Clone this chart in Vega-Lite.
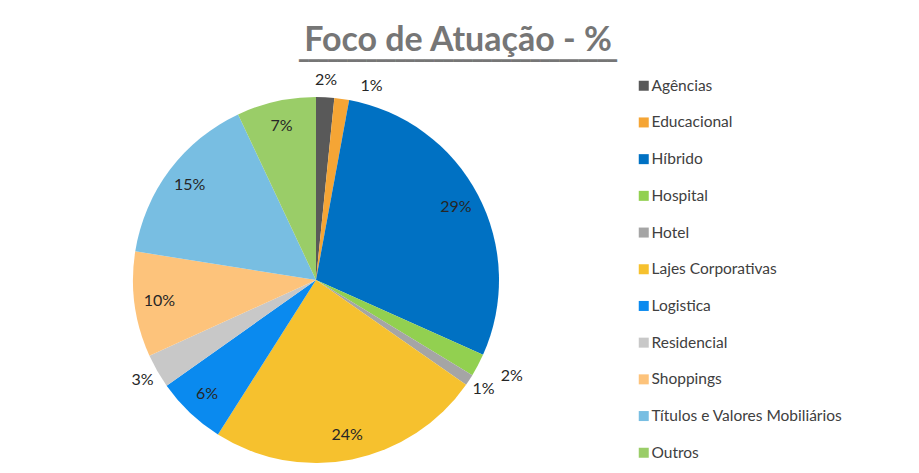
{
  "$schema": "https://vega.github.io/schema/vega-lite/v6.json",
  "width": 632,
  "height": 386,
  "autosize": {"type": "none"},
  "padding": {"left": 0, "top": 87, "right": 287, "bottom": 0},
  "background": "white",
  "config": {"view": {"stroke": null}, "font": "Lato"},
  "title": {
    "text": "Foco de Atuação - %",
    "subtitle": "━━━━━━━━━━━━━━━━━━━━━━━━━━━━━━━━━",
    "font": "Lato",
    "fontSize": 34,
    "fontWeight": "bold",
    "color": "#767676",
    "anchor": "middle",
    "frame": "group",
    "dx": 142,
    "offset": 2,
    "subtitleFont": "DejaVu Sans Mono",
    "subtitleFontSize": 16,
    "subtitleColor": "#767676",
    "subtitlePadding": -5
  },
  "data": {
    "values": [
      {"ordem": 1, "segmento": "Agências", "valor": 1.6, "rotulo": "2%"},
      {"ordem": 2, "segmento": "Educacional", "valor": 1.3, "rotulo": "1%"},
      {"ordem": 3, "segmento": "Híbrido", "valor": 28.8, "rotulo": "29%"},
      {"ordem": 4, "segmento": "Hospital", "valor": 2.0, "rotulo": "2%"},
      {"ordem": 5, "segmento": "Hotel", "valor": 1.0, "rotulo": "1%"},
      {"ordem": 6, "segmento": "Lajes Corporativas", "valor": 24.3, "rotulo": "24%"},
      {"ordem": 7, "segmento": "Logistica", "valor": 6.2, "rotulo": "6%"},
      {"ordem": 8, "segmento": "Residencial", "valor": 3.0, "rotulo": "3%"},
      {"ordem": 9, "segmento": "Shoppings", "valor": 9.3, "rotulo": "10%"},
      {"ordem": 10, "segmento": "Títulos e Valores Mobiliários", "valor": 15.5, "rotulo": "15%"},
      {"ordem": 11, "segmento": "Outros", "valor": 7.0, "rotulo": "7%"}
    ]
  },
  "encoding": {
    "theta": {"field": "valor", "type": "quantitative", "stack": true},
    "order": {"field": "ordem", "type": "quantitative", "sort": "ascending"}
  },
  "layer": [
    {
      "mark": {"type": "arc", "outerRadius": 183},
      "encoding": {
        "color": {
          "field": "segmento",
          "type": "nominal",
          "scale": {
            "domain": ["Agências", "Educacional", "Híbrido", "Hospital", "Hotel", "Lajes Corporativas", "Logistica", "Residencial", "Shoppings", "Títulos e Valores Mobiliários", "Outros"],
            "range": ["#595959", "#F5A535", "#0071C3", "#92D050", "#A5A5A5", "#F6C12E", "#0A8AEF", "#C8C8C8", "#FDC37B", "#78BEE2", "#9ACD68"]
          },
          "legend": {
            "title": null,
            "orient": "none",
            "legendX": 636,
            "legendY": -9,
            "padding": 0,
            "symbolType": "square",
            "symbolSize": 100,
            "symbolStrokeWidth": 0,
            "labelFont": "Lato",
            "labelFontSize": 15.5,
            "labelColor": "#404040",
            "labelOffset": 0,
            "labelLimit": 300,
            "rowPadding": 19.7
          }
        }
      }
    },
    {
      "mark": {"type": "text", "radius": 158, "font": "Lato", "fontSize": 16, "color": "#262626"},
      "encoding": {
        "text": {"condition": {"test": "datum.valor >= 5", "field": "rotulo"}, "value": ""}
      }
    },
    {
      "mark": {"type": "text", "radius": 200, "font": "Lato", "fontSize": 16, "color": "#262626"},
      "encoding": {
        "text": {"condition": {"test": "datum.valor < 5 && datum.segmento != 'Educacional' && datum.segmento != 'Hospital'", "field": "rotulo"}, "value": ""}
      }
    },
    {
      "mark": {"type": "text", "radius": 203, "dx": 27, "dy": 7, "font": "Lato", "fontSize": 16, "color": "#262626"},
      "encoding": {
        "text": {"condition": {"test": "datum.segmento == 'Educacional'", "field": "rotulo"}, "value": ""}
      }
    },
    {
      "mark": {"type": "text", "radius": 203, "dx": 16, "dy": 2, "font": "Lato", "fontSize": 16, "color": "#262626"},
      "encoding": {
        "text": {"condition": {"test": "datum.segmento == 'Hospital'", "field": "rotulo"}, "value": ""}
      }
    }
  ]
}
